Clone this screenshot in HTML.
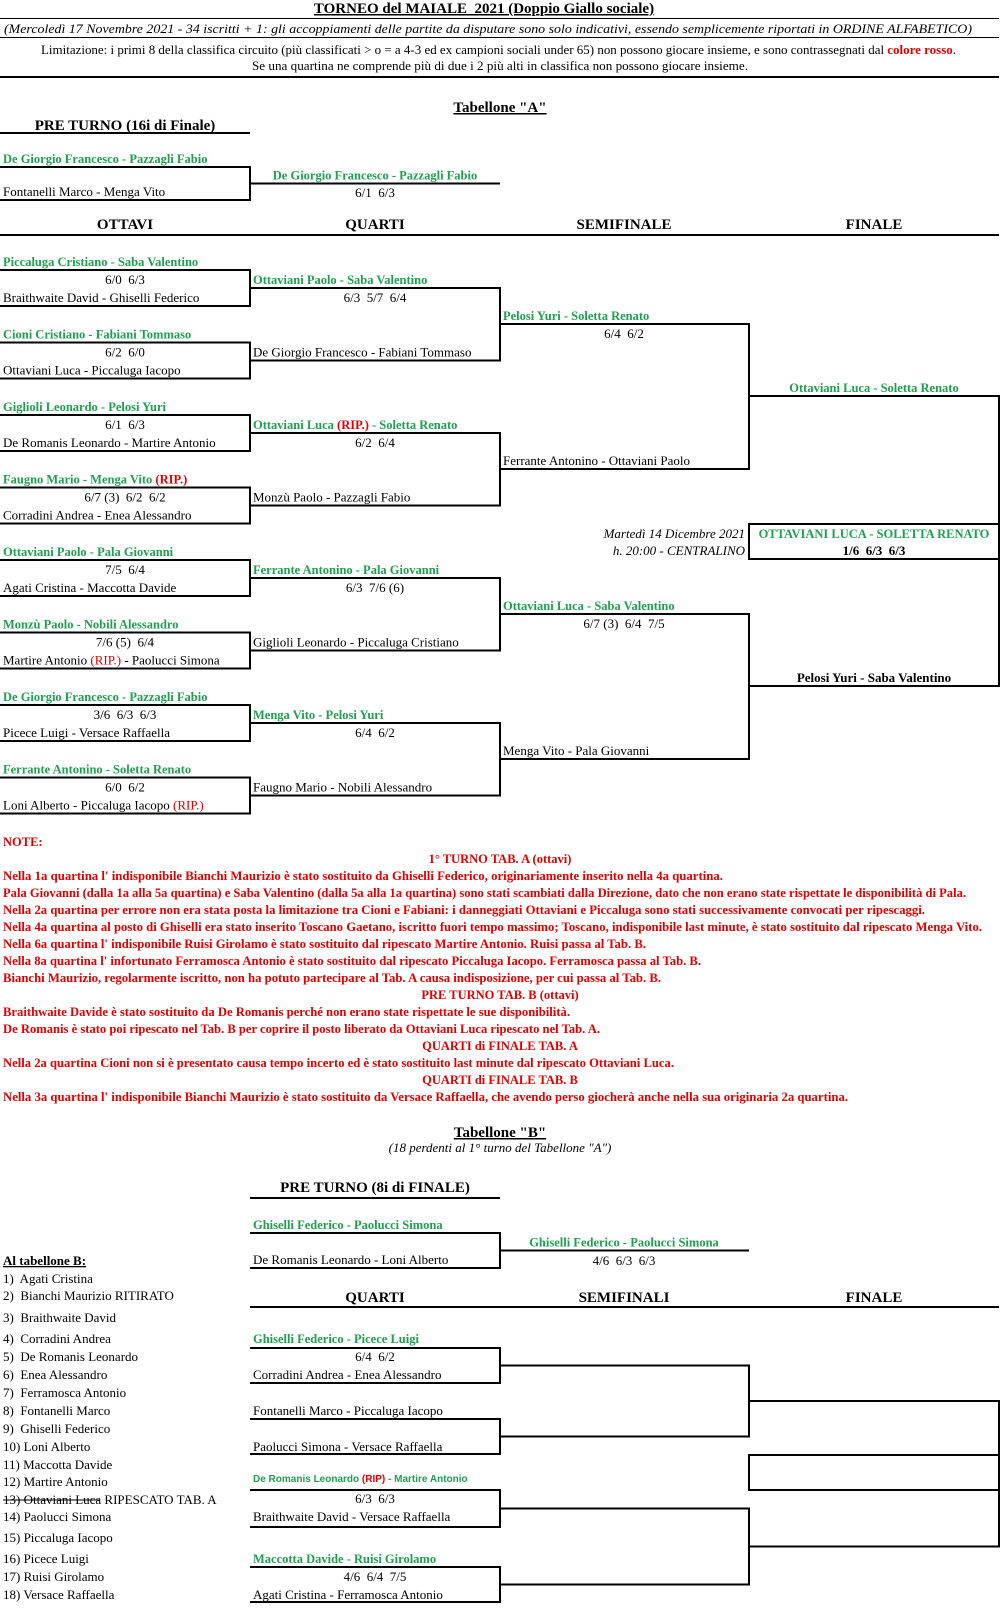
<!DOCTYPE html>
<html><head><meta charset="utf-8"><style>
html,body{margin:0;padding:0;background:#fff}
svg{display:block}
text{font-family:"Liberation Serif",serif;font-size:13px;fill:#000;white-space:pre}
.g{fill:#1f9f4f;font-weight:bold;font-size:12.5px}
.r{fill:#e00000}
.h{font-weight:bold;font-size:15px}
.n{fill:#e00000;font-weight:bold;font-size:12.5px}
.c{text-anchor:middle}
.s{font-family:"Liberation Sans",sans-serif;font-size:10px;font-weight:bold}
path,line{stroke:#000;stroke-width:2;fill:none}
</style></head><body>
<svg width="1001" height="1621" viewBox="0 0 1001 1621" xmlns="http://www.w3.org/2000/svg" xml:space="preserve">
<!-- Header -->
<text x="484" y="13" class="h c" text-decoration="underline">TORNEO del MAIALE  2021 (Doppio Giallo sociale)</text>
<line x1="0" y1="18.5" x2="999" y2="18.5" style="stroke-width:1"/>
<text x="4" y="33" font-style="italic" font-size="12" textLength="968" lengthAdjust="spacingAndGlyphs">(Mercoledì 17 Novembre 2021 - 34 iscritti + 1: gli accoppiamenti delle partite da disputare sono solo indicativi, essendo semplicemente riportati in ORDINE ALFABETICO)</text>
<line x1="0" y1="37.5" x2="999" y2="37.5" style="stroke-width:1"/>
<text x="41" y="54" font-size="12" textLength="915" lengthAdjust="spacingAndGlyphs">Limitazione: i primi 8 della classifica circuito (più classificati &gt; o = a 4-3 ed ex campioni sociali under 65) non possono giocare insieme, e sono contrassegnati dal <tspan class="r" font-weight="bold">colore rosso</tspan>.</text>
<text x="252" y="70" font-size="12" textLength="496" lengthAdjust="spacingAndGlyphs">Se una quartina ne comprende più di due i 2 più alti in classifica non possono giocare insieme.</text>
<line x1="0" y1="77" x2="999" y2="77"/>

<text x="500" y="112" class="h c" text-decoration="underline">Tabellone "A"</text>
<text x="125" y="130" class="h c">PRE TURNO (16i di Finale)</text>
<line x1="0" y1="133" x2="250" y2="133"/>

<!-- Pre turno -->
<path d="M0,167 H250 V200 H0"/>
<path d="M250,183.5 H500"/>
<text x="3" y="163" class="g">De Giorgio Francesco - Pazzagli Fabio</text>
<text x="3" y="196">Fontanelli Marco - Menga Vito</text>
<text x="375" y="179.5" class="g c">De Giorgio Francesco - Pazzagli Fabio</text>
<text x="375" y="197" class="c">6/1  6/3</text>

<text x="125" y="229" class="h c">OTTAVI</text>
<text x="375" y="229" class="h c">QUARTI</text>
<text x="624" y="229" class="h c">SEMIFINALE</text>
<text x="874" y="229" class="h c">FINALE</text>
<line x1="0" y1="235" x2="999" y2="235"/>

<!-- Ottavi -->
<path d="M0,270 H250 V306 H0"/>
<path d="M0,342.5 H250 V378.5 H0"/>
<path d="M0,415 H250 V451 H0"/>
<path d="M0,487.5 H250 V523.5 H0"/>
<path d="M0,560 H250 V596 H0"/>
<path d="M0,632.5 H250 V668.5 H0"/>
<path d="M0,705 H250 V741 H0"/>
<path d="M0,777.5 H250 V813.5 H0"/>

<text x="3" y="266" class="g">Piccaluga Cristiano - Saba Valentino</text>
<text x="125" y="284" class="c">6/0  6/3</text>
<text x="3" y="302">Braithwaite David - Ghiselli Federico</text>

<text x="3" y="338.5" class="g">Cioni Cristiano - Fabiani Tommaso</text>
<text x="125" y="356.5" class="c">6/2  6/0</text>
<text x="3" y="374.5">Ottaviani Luca - Piccaluga Iacopo</text>

<text x="3" y="411" class="g">Giglioli Leonardo - Pelosi Yuri</text>
<text x="125" y="429" class="c">6/1  6/3</text>
<text x="3" y="447">De Romanis Leonardo - Martire Antonio</text>

<text x="3" y="483.5" class="g">Faugno Mario - Menga Vito <tspan class="r">(RIP.)</tspan></text>
<text x="125" y="501.5" class="c">6/7 (3)  6/2  6/2</text>
<text x="3" y="519.5">Corradini Andrea - Enea Alessandro</text>

<text x="3" y="556" class="g">Ottaviani Paolo - Pala Giovanni</text>
<text x="125" y="574" class="c">7/5  6/4</text>
<text x="3" y="592">Agati Cristina - Maccotta Davide</text>

<text x="3" y="628.5" class="g">Monzù Paolo - Nobili Alessandro</text>
<text x="125" y="646.5" class="c">7/6 (5)  6/4</text>
<text x="3" y="664.5">Martire Antonio <tspan class="r">(RIP.)</tspan> - Paolucci Simona</text>

<text x="3" y="701" class="g">De Giorgio Francesco - Pazzagli Fabio</text>
<text x="125" y="719" class="c">3/6  6/3  6/3</text>
<text x="3" y="737">Picece Luigi - Versace Raffaella</text>

<text x="3" y="773.5" class="g">Ferrante Antonino - Soletta Renato</text>
<text x="125" y="791.5" class="c">6/0  6/2</text>
<text x="3" y="809.5">Loni Alberto - Piccaluga Iacopo <tspan class="r">(RIP.)</tspan></text>

<!-- Quarti -->
<path d="M250,288 H500 V360.5 H250"/>
<path d="M250,433 H500 V505.5 H250"/>
<path d="M250,578 H500 V650.5 H250"/>
<path d="M250,723 H500 V795.5 H250"/>

<text x="253" y="284" class="g">Ottaviani Paolo - Saba Valentino</text>
<text x="375" y="302" class="c">6/3  5/7  6/4</text>
<text x="253" y="356.5">De Giorgio Francesco - Fabiani Tommaso</text>

<text x="253" y="429" class="g">Ottaviani Luca <tspan class="r">(RIP.)</tspan> - Soletta Renato</text>
<text x="375" y="447" class="c">6/2  6/4</text>
<text x="253" y="501.5">Monzù Paolo - Pazzagli Fabio</text>

<text x="253" y="574" class="g">Ferrante Antonino - Pala Giovanni</text>
<text x="375" y="592" class="c">6/3  7/6 (6)</text>
<text x="253" y="646.5">Giglioli Leonardo - Piccaluga Cristiano</text>

<text x="253" y="719" class="g">Menga Vito - Pelosi Yuri</text>
<text x="375" y="737" class="c">6/4  6/2</text>
<text x="253" y="791.5">Faugno Mario - Nobili Alessandro</text>

<!-- Semi -->
<path d="M500,324 H749 V469 H500"/>
<path d="M500,614 H749 V759 H500"/>
<text x="503" y="320" class="g">Pelosi Yuri - Soletta Renato</text>
<text x="624" y="338" class="c">6/4  6/2</text>
<text x="503" y="465">Ferrante Antonino - Ottaviani Paolo</text>
<text x="503" y="610" class="g">Ottaviani Luca - Saba Valentino</text>
<text x="624" y="628" class="c">6/7 (3)  6/4  7/5</text>
<text x="503" y="755">Menga Vito - Pala Giovanni</text>

<!-- Finale -->
<path d="M749,396 H999 V686 H749"/>
<path d="M749,524 H999 V559 H749 Z"/>
<text x="874" y="392" class="g c">Ottaviani Luca - Soletta Renato</text>
<text x="874" y="682" class="c" font-weight="bold">Pelosi Yuri - Saba Valentino</text>
<text x="874" y="538" class="g c" font-size="13">OTTAVIANI LUCA - SOLETTA RENATO</text>
<text x="874" y="555" class="c" font-weight="bold">1/6  6/3  6/3</text>
<text x="745" y="538" font-style="italic" text-anchor="end">Martedì 14 Dicembre 2021</text>
<text x="745" y="555" font-style="italic" text-anchor="end">h. 20:00 - CENTRALINO</text>

<!-- Notes -->
<text x="3" y="846" class="n">NOTE:</text>
<text x="500" y="863" class="n c">1° TURNO TAB. A (ottavi)</text>
<text x="3" y="880" class="n" textLength="720" lengthAdjust="spacingAndGlyphs">Nella 1a quartina l' indisponibile Bianchi Maurizio è stato sostituito da Ghiselli Federico, originariamente inserito nella 4a quartina.</text>
<text x="3" y="897" class="n" textLength="963" lengthAdjust="spacingAndGlyphs">Pala Giovanni (dalla 1a alla 5a quartina) e Saba Valentino (dalla 5a alla 1a quartina) sono stati scambiati dalla Direzione, dato che non erano state rispettate le disponibilità di Pala.</text>
<text x="3" y="914" class="n" textLength="922" lengthAdjust="spacingAndGlyphs">Nella 2a quartina per errore non era stata posta la limitazione tra Cioni e Fabiani: i danneggiati Ottaviani e Piccaluga sono stati successivamente convocati per ripescaggi.</text>
<text x="3" y="931" class="n" textLength="979" lengthAdjust="spacingAndGlyphs">Nella 4a quartina al posto di Ghiselli era stato inserito Toscano Gaetano, iscritto fuori tempo massimo; Toscano, indisponibile last minute, è stato sostituito dal ripescato Menga Vito.</text>
<text x="3" y="948" class="n" textLength="643" lengthAdjust="spacingAndGlyphs">Nella 6a quartina l' indisponibile Ruisi Girolamo è stato sostituito dal ripescato Martire Antonio. Ruisi passa al Tab. B.</text>
<text x="3" y="965" class="n" textLength="698" lengthAdjust="spacingAndGlyphs">Nella 8a quartina l' infortunato Ferramosca Antonio è stato sostituito dal ripescato Piccaluga Iacopo. Ferramosca passa al Tab. B.</text>
<text x="3" y="982" class="n" textLength="658" lengthAdjust="spacingAndGlyphs">Bianchi Maurizio, regolarmente iscritto, non ha potuto partecipare al Tab. A causa indisposizione, per cui passa al Tab. B.</text>
<text x="500" y="999" class="n c">PRE TURNO TAB. B (ottavi)</text>
<text x="3" y="1016" class="n" textLength="567" lengthAdjust="spacingAndGlyphs">Braithwaite Davide è stato sostituito da De Romanis perché non erano state rispettate le sue disponibilità.</text>
<text x="3" y="1033" class="n" textLength="597" lengthAdjust="spacingAndGlyphs">De Romanis è stato poi ripescato nel Tab. B per coprire il posto liberato da Ottaviani Luca ripescato nel Tab. A.</text>
<text x="500" y="1050" class="n c">QUARTI di FINALE TAB. A</text>
<text x="3" y="1067" class="n" textLength="671" lengthAdjust="spacingAndGlyphs">Nella 2a quartina Cioni non si è presentato causa tempo incerto ed è stato sostituito last minute dal ripescato Ottaviani Luca.</text>
<text x="500" y="1084" class="n c">QUARTI di FINALE TAB. B</text>
<text x="3" y="1101" class="n" textLength="845" lengthAdjust="spacingAndGlyphs">Nella 3a quartina l' indisponibile Bianchi Maurizio è stato sostituito da Versace Raffaella, che avendo perso giocherà anche nella sua originaria 2a quartina.</text>

<!-- Tabellone B -->
<text x="500" y="1137" class="h c" text-decoration="underline">Tabellone "B"</text>
<text x="500" y="1152" class="c" font-style="italic" font-size="12">(18 perdenti al 1° turno del Tabellone "A")</text>
<text x="375" y="1192" class="h c">PRE TURNO (8i di FINALE)</text>
<line x1="250" y1="1198" x2="500" y2="1198"/>

<path d="M250,1233 H500 V1268 H250"/>
<path d="M500,1250.5 H749"/>
<text x="253" y="1229" class="g">Ghiselli Federico - Paolucci Simona</text>
<text x="253" y="1264">De Romanis Leonardo - Loni Alberto</text>
<text x="624" y="1246.5" class="g c">Ghiselli Federico - Paolucci Simona</text>
<text x="624" y="1265" class="c">4/6  6/3  6/3</text>

<text x="375" y="1302" class="h c">QUARTI</text>
<text x="624" y="1302" class="h c">SEMIFINALI</text>
<text x="874" y="1302" class="h c">FINALE</text>
<line x1="250" y1="1307" x2="999" y2="1307"/>

<!-- list -->
<text x="3" y="1265" font-weight="bold" font-size="12.5" text-decoration="underline">Al tabellone B:</text>
<text x="3" y="1283" font-size="12.5">1)  Agati Cristina</text>
<text x="3" y="1300" font-size="12.5">2)  Bianchi Maurizio RITIRATO</text>
<text x="3" y="1322" font-size="12.5">3)  Braithwaite David</text>
<text x="3" y="1343" font-size="12.5">4)  Corradini Andrea</text>
<text x="3" y="1361" font-size="12.5">5)  De Romanis Leonardo</text>
<text x="3" y="1379" font-size="12.5">6)  Enea Alessandro</text>
<text x="3" y="1397" font-size="12.5">7)  Ferramosca Antonio</text>
<text x="3" y="1415" font-size="12.5">8)  Fontanelli Marco</text>
<text x="3" y="1433" font-size="12.5">9)  Ghiselli Federico</text>
<text x="3" y="1451" font-size="12.5">10) Loni Alberto</text>
<text x="3" y="1469" font-size="12.5">11) Maccotta Davide</text>
<text x="3" y="1486" font-size="12.5">12) Martire Antonio</text>
<text x="3" y="1504" font-size="12.5">13) Ottaviani Luca RIPESCATO TAB. A</text>
<line x1="3" y1="1500" x2="100" y2="1500" style="stroke-width:1"/>
<text x="3" y="1521" font-size="12.5">14) Paolucci Simona</text>
<text x="3" y="1542" font-size="12.5">15) Piccaluga Iacopo</text>
<text x="3" y="1563" font-size="12.5">16) Picece Luigi</text>
<text x="3" y="1581" font-size="12.5">17) Ruisi Girolamo</text>
<text x="3" y="1599" font-size="12.5">18) Versace Raffaella</text>

<!-- B quarti -->
<path d="M250,1348 H500 V1383 H250"/>
<path d="M250,1419 H500 V1454 H250"/>
<path d="M250,1490 H500 V1527 H250"/>
<path d="M250,1567 H500 V1602 H250"/>
<text x="253" y="1343" class="g">Ghiselli Federico - Picece Luigi</text>
<text x="375" y="1361" class="c">6/4  6/2</text>
<text x="253" y="1379">Corradini Andrea - Enea Alessandro</text>
<text x="253" y="1415">Fontanelli Marco - Piccaluga Iacopo</text>
<text x="253" y="1451">Paolucci Simona - Versace Raffaella</text>
<text x="253" y="1482" class="g s">De Romanis Leonardo <tspan class="r">(RIP)</tspan> - Martire Antonio</text>
<text x="375" y="1503" class="c">6/3  6/3</text>
<text x="253" y="1521">Braithwaite David - Versace Raffaella</text>
<text x="253" y="1563" class="g">Maccotta Davide - Ruisi Girolamo</text>
<text x="375" y="1581" class="c">4/6  6/4  7/5</text>
<text x="253" y="1599">Agati Cristina - Ferramosca Antonio</text>

<!-- B semi / final -->
<path d="M500,1365.5 H749 V1436.5 H500"/>
<path d="M500,1508.5 H749 V1584.5 H500"/>
<path d="M749,1401 H999 V1546.5 H749"/>
<path d="M749,1455 H999 V1490 H749 Z"/>
</svg>
</body></html>
